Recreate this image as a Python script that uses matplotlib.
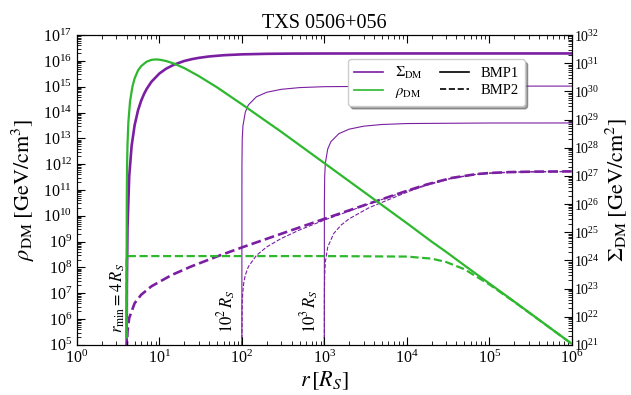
import matplotlib
matplotlib.use("Agg")
import matplotlib.pyplot as plt
from matplotlib.lines import Line2D
from matplotlib.ticker import LogLocator, NullFormatter

plt.rcParams['font.family'] = 'serif'
plt.rcParams['font.serif'] = ['Liberation Serif', 'DejaVu Serif']
plt.rcParams['mathtext.fontset'] = 'stix'

purple = '#7b1fa2'
green = '#2eb82e'

# rho_DM [GeV/cm^3], BMP1 (spike) and BMP2 (saturated core)
r_rho = [4.0003, 4.001, 4.005, 4.02, 4.05, 4.1, 4.2, 4.4, 4.7, 5, 5.5, 6, 7, 8, 9,
         10, 12, 15, 20, 30, 50, 100, 300, 1000, 1e4, 2e4, 3e4, 5e4, 1e5, 2e5, 1e6]
rho_bmp1 = [1.9e5, 6.9e6, 8.5e8, 5.4e10, 8.1e11, 6.0e12, 4.3e13, 2.7e14, 1.0e15, 2.1e15,
            4.3e15, 6.3e15, 9.4e15, 1.1e16, 1.15e16, 1.12e16, 1.0e16, 7.9e15, 5.3e15,
            2.6e15, 9.5e14, 2.1e14, 1.8e13, 1.1e12, 5.2e9, 1.0e9, 4.0e8, 1.2e8, 2.4e7,
            4.8e6, 1.1e5]
rho_bmp2 = [1.9e5, 6.8e6, 2.1e8, 2.74e8, 2.75e8, 2.75e8, 2.75e8, 2.75e8, 2.75e8, 2.75e8,
            2.75e8, 2.75e8, 2.75e8, 2.75e8, 2.75e8, 2.75e8, 2.75e8, 2.75e8, 2.75e8,
            2.75e8, 2.75e8, 2.75e8, 2.75e8, 2.75e8, 2.63e8, 2.19e8, 1.62e8, 8.5e7, 2.2e7,
            4.7e6, 1.1e5]

# Sigma_DM [GeV/cm^2], BMP1, for r_min = 4, 100, 1000 R_S
r_sig1_4 = [4.005, 4.01, 4.03, 4.1, 4.3, 4.6, 5, 5.5, 6, 6.5, 7, 8, 10, 12, 15, 20, 25, 30,
            40, 60, 100, 200, 400, 1000, 1e4, 1e6]
sig1_4 = [1.0e20, 1.6e21, 1.29e23, 1.47e25, 9.7e26, 1.17e28, 6.3e28, 2.14e29, 4.67e29,
          8.11e29, 1.229e30, 2.21e30, 4.36e30, 6.39e30, 8.96e30, 1.21e31, 1.415e31,
          1.561e31, 1.75e31, 1.937e31, 2.08e31, 2.174e31, 2.213e31, 2.23e31, 2.24e31, 2.24e31]
r_sig1_100 = [100, 100.1, 101, 103, 110, 120, 150, 200, 300, 500, 1000, 1e4, 1e6]
sig1_100 = [1e21, 2.07e27, 2.04e28, 5.99e28, 1.85e29, 3.34e29, 6.47e29, 9.35e29,
            1.19e30, 1.37e30, 1.48e30, 1.547e30, 1.55e30]
r_sig1_1000 = [1000, 1001, 1010, 1030, 1100, 1200, 1500, 2000, 3000, 5000, 1e4, 1e5, 1e6]
sig1_1000 = [1e21, 1.01e26, 1.0e27, 2.94e27, 9.07e27, 1.64e28, 3.17e28, 4.58e28, 5.84e28,
             6.71e28, 7.25e28, 7.58e28, 7.6e28]

# Sigma_DM, BMP2
r_sig2_4 = [4.02, 4.03, 4.1, 4.3, 5, 6, 8, 14, 24, 54, 104, 1004, 3520, 1.056e4, 1.76e4,
            3.52e4, 7.04e4, 1.056e5, 1.76e5, 3.52e5, 1e6]
sig2_4 = [6e20, 9e20, 3.0e21, 9.0e21, 3.0e22, 6.0e22, 1.2e23, 3.0e23, 6.0e23, 1.5e24,
          3.0e24, 3.0e25, 1.053e26, 3.11e26, 5.0e26, 8.5e26, 1.164e27, 1.28e27, 1.366e27,
          1.4215e27, 1.449e27]
r_sig2_100 = [100, 101, 102, 105, 110, 120, 150, 200, 300, 500, 1000, 3520, 1.056e4,
              1.76e4, 3.52e4, 7.04e4, 1.056e5, 1.76e5, 3.52e5, 1e6]
sig2_100 = [1e21, 3e22, 6e22, 1.5e23, 3e23, 6e23, 1.5e24, 3e24, 6e24, 1.2e25, 2.7e25,
            1.024e26, 3.08e26, 4.97e26, 8.47e26, 1.161e27, 1.277e27, 1.363e27, 1.419e27,
            1.446e27]
r_sig2_1000 = [1000, 1001, 1003, 1010, 1030, 1100, 1300, 1600, 2000, 3520, 1.056e4, 1.76e4,
               3.52e4, 7.04e4, 1.056e5, 1.76e5, 3.52e5, 1e6]
sig2_1000 = [1e21, 3e22, 9e22, 3e23, 9e23, 3e24, 9e24, 1.8e25, 3e25, 7.54e25, 2.81e26,
             4.70e26, 8.2e26, 1.134e27, 1.25e27, 1.336e27, 1.392e27, 1.419e27]

fig = plt.figure(figsize=(6.31, 3.95), dpi=100)
ax = fig.add_axes([0.122, 0.127, 0.784, 0.784])
ax2 = ax.twinx()

ax2.plot(r_sig1_4, sig1_4, color=purple, lw=1.9)
ax2.plot(r_sig1_100, sig1_100, color=purple, lw=0.8)
ax2.plot(r_sig1_1000, sig1_1000, color=purple, lw=0.8)
ax2.plot(r_sig2_4, sig2_4, color=purple, lw=1.9, ls='--')
ax2.plot(r_sig2_100, sig2_100, color=purple, lw=0.8, ls='--')
ax2.plot(r_sig2_1000, sig2_1000, color=purple, lw=0.8, ls='--')

ax.plot(r_rho, rho_bmp1, color=green, lw=1.6, zorder=3)
ax.plot(r_rho, rho_bmp2, color=green, lw=1.6, ls='--', zorder=3)
ax.set_zorder(ax2.get_zorder() + 1)
ax.patch.set_visible(False)

ax.set_xscale('log')
ax.set_yscale('log')
ax2.set_yscale('log')
ax.set_xlim(1, 1e6)
ax.set_ylim(1e5, 1e17)
ax2.set_ylim(1e21, 1e32)

for a in (ax, ax2):
    a.yaxis.set_major_locator(LogLocator(base=10, numticks=30))
    a.yaxis.set_minor_locator(LogLocator(base=10, subs=range(2, 10), numticks=30))
    a.yaxis.set_minor_formatter(NullFormatter())
ax.xaxis.set_major_locator(LogLocator(base=10, numticks=30))
ax.xaxis.set_minor_locator(LogLocator(base=10, subs=range(2, 10), numticks=30))
ax.tick_params(which='both', direction='in', top=True, labelsize=11.5)
ax.tick_params(which='major', length=6)
ax.tick_params(which='minor', length=3)
ax2.tick_params(which='both', direction='in', labelsize=10, pad=2)
ax2.tick_params(which='major', length=6)
ax2.tick_params(which='minor', length=3)

ax.set_xlabel(r'$r\,[R_S]$', fontsize=16, labelpad=2)
ax.set_ylabel(r'$\rho_{\rm DM}\;[{\rm GeV/cm^3}]$', fontsize=16, labelpad=4)
ax2.set_ylabel(r'$\Sigma_{\rm DM}\;[{\rm GeV/cm^2}]$', fontsize=16, labelpad=2)
ax.set_title('TXS 0506+056', fontsize=14.5, pad=5)

ax.text(3.14, 3e5, r'$r_{\rm min}=4\,R_S$', rotation=90, ha='center', va='bottom', fontsize=12)
ax.text(66, 3e5, r'$10^2\,R_S$', rotation=90, ha='center', va='bottom', fontsize=12)
ax.text(667, 3e5, r'$10^3\,R_S$', rotation=90, ha='center', va='bottom', fontsize=12)

handles = [Line2D([], [], color=purple, lw=1.2), Line2D([], [], color=green, lw=1.2),
           Line2D([], [], color='black', lw=1.2), Line2D([], [], color='black', lw=1.2, ls='--')]
labels = [r'$\Sigma_{\rm DM}$', r'$\rho_{\rm DM}$', 'BMP1', 'BMP2']
ax.legend(handles, labels, ncol=2, loc='upper right', bbox_to_anchor=(0.92, 0.945),
          fontsize=10.5, shadow=True, fancybox=True, handlelength=2.0, columnspacing=1.2,
          handletextpad=0.8, borderpad=0.4, labelspacing=0.25)

fig.savefig('out.png', dpi=100)
